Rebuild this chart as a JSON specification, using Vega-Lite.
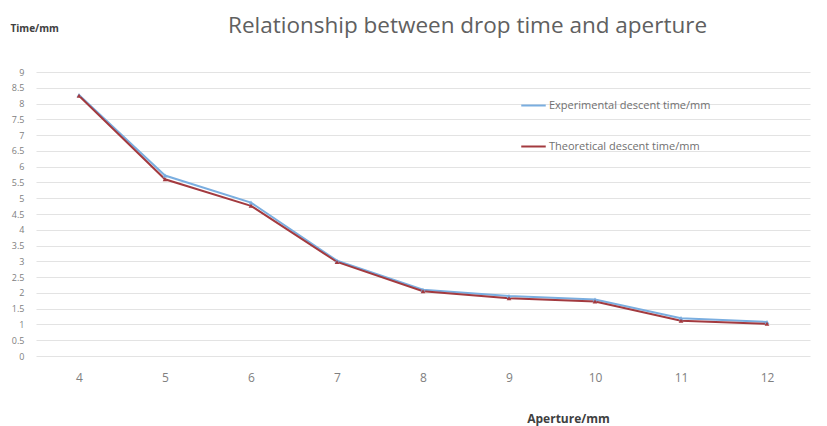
{
  "$schema": "https://vega.github.io/schema/vega-lite/v6.json",
  "width": 774,
  "height": 284,
  "autosize": {"type": "none"},
  "padding": {"left": 36, "top": 72, "right": 17, "bottom": 70},
  "background": "white",
  "title": {
    "text": "Relationship between drop time and aperture",
    "font": "Open Sans",
    "fontSize": 22.5,
    "fontWeight": "normal",
    "color": "#606060",
    "anchor": "start",
    "dx": 218,
    "offset": -14
  },
  "config": {
    "view": {"stroke": null},
    "font": "Open Sans"
  },
  "data": {
    "values": [
      {"aperture": 4, "series": "Experimental descent time/mm", "time": 8.27},
      {"aperture": 5, "series": "Experimental descent time/mm", "time": 5.72},
      {"aperture": 6, "series": "Experimental descent time/mm", "time": 4.86},
      {"aperture": 7, "series": "Experimental descent time/mm", "time": 3.02},
      {"aperture": 8, "series": "Experimental descent time/mm", "time": 2.1},
      {"aperture": 9, "series": "Experimental descent time/mm", "time": 1.9},
      {"aperture": 10, "series": "Experimental descent time/mm", "time": 1.79},
      {"aperture": 11, "series": "Experimental descent time/mm", "time": 1.2},
      {"aperture": 12, "series": "Experimental descent time/mm", "time": 1.08},
      {"aperture": 4, "series": "Theoretical descent time/mm", "time": 8.25},
      {"aperture": 5, "series": "Theoretical descent time/mm", "time": 5.6},
      {"aperture": 6, "series": "Theoretical descent time/mm", "time": 4.76},
      {"aperture": 7, "series": "Theoretical descent time/mm", "time": 2.98},
      {"aperture": 8, "series": "Theoretical descent time/mm", "time": 2.05},
      {"aperture": 9, "series": "Theoretical descent time/mm", "time": 1.83},
      {"aperture": 10, "series": "Theoretical descent time/mm", "time": 1.73},
      {"aperture": 11, "series": "Theoretical descent time/mm", "time": 1.12},
      {"aperture": 12, "series": "Theoretical descent time/mm", "time": 1.02}
    ]
  },
  "encoding": {
    "x": {
      "field": "aperture",
      "type": "ordinal",
      "scale": {"type": "point", "padding": 0.5},
      "axis": {
        "title": "Aperture/mm",
        "titleFont": "Open Sans",
        "titleFontSize": 12,
        "titleFontWeight": "bold",
        "titleColor": "#404040",
        "titleAnchor": "start",
        "titleAlign": "center",
        "titleX": 532,
        "titleY": 57,
        "labelAngle": 0,
        "labelFontSize": 12,
        "labelColor": "#808080",
        "labelPadding": 16,
        "ticks": false,
        "domain": false,
        "grid": false
      }
    },
    "y": {
      "field": "time",
      "type": "quantitative",
      "scale": {"domain": [0, 9], "nice": false},
      "axis": {
        "values": [0, 0.5, 1, 1.5, 2, 2.5, 3, 3.5, 4, 4.5, 5, 5.5, 6, 6.5, 7, 7.5, 8, 8.5, 9],
        "format": "~f",
        "title": "Time/mm",
        "titleAngle": 0,
        "titleAlign": "left",
        "titleBaseline": "middle",
        "titleX": -26,
        "titleY": -44,
        "titleFontSize": 10,
        "titleFontWeight": "bold",
        "titleColor": "#404040",
        "labelFontSize": 9,
        "labelColor": "#808080",
        "labelPadding": 12,
        "ticks": false,
        "domain": false,
        "grid": true,
        "gridColor": "#e3e3e3",
        "gridWidth": 1.2
      }
    },
    "color": {
      "field": "series",
      "type": "nominal",
      "scale": {
        "domain": ["Experimental descent time/mm", "Theoretical descent time/mm"],
        "range": ["#7aaee0", "#a33a3f"]
      },
      "legend": {
        "title": null,
        "orient": "none",
        "legendX": 484,
        "legendY": 20,
        "symbolType": "stroke",
        "symbolStrokeWidth": 2,
        "symbolSize": 600,
        "labelFontSize": 11,
        "labelLimit": 300,
        "labelColor": "#707070",
        "rowPadding": 22,
        "labelOffset": 2
      }
    }
  },
  "layer": [
    {
      "mark": {"type": "line", "strokeWidth": 2}
    },
    {
      "mark": {"type": "point", "shape": "triangle-up", "filled": true, "size": 22, "opacity": 1}
    }
  ]
}
